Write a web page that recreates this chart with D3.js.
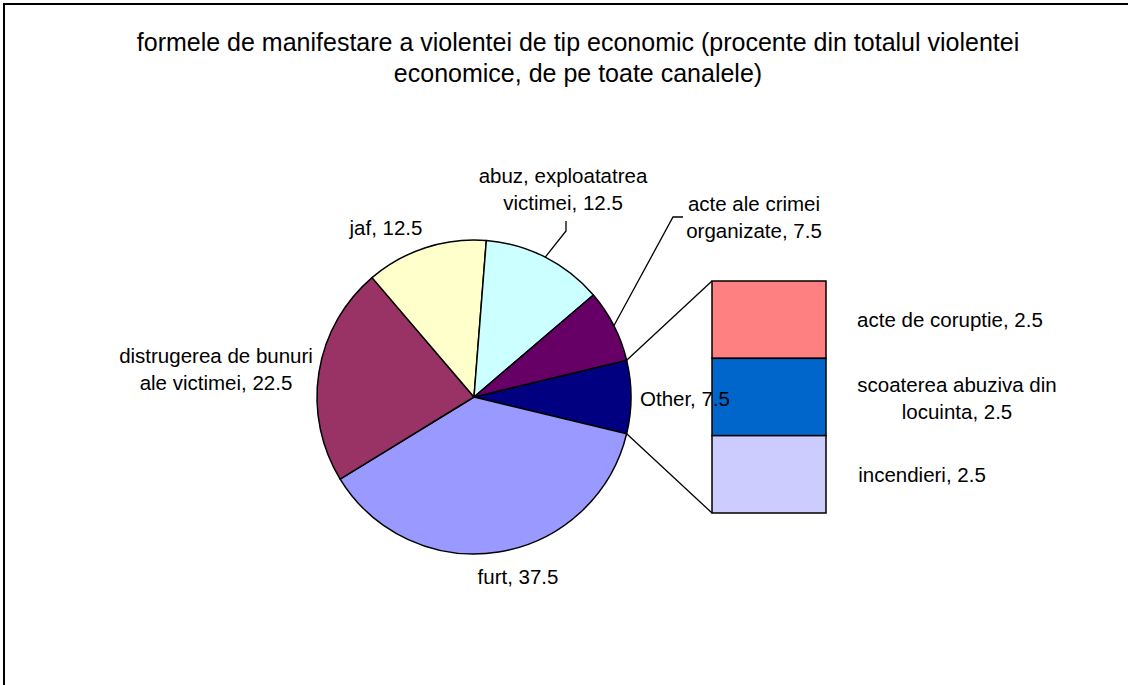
<!DOCTYPE html>
<html>
<head>
<meta charset="utf-8">
<script src="https://cdn.jsdelivr.net/npm/d3@7"></script>
<style>
  html, body { margin: 0; padding: 0; background: #fff; }
  svg { display: block; }
  text { font-family: "Liberation Sans", Arial, sans-serif; fill: #000; }
</style>
</head>
<body>
<svg id="chart" width="1128" height="685"></svg>
<script>
// ---- data ----
const titleLines = ["formele de manifestare a violentei de tip economic (procente din totalul violentei",
                    "economice, de pe toate canalele)"];
const pieNames  = ["Other", "furt", "distrugerea de bunuri ale victimei", "jaf", "abuz, exploatatrea victimei", "acte ale crimei organizate"];
const pieValues = [7.5, 37.5, 22.5, 12.5, 12.5, 7.5];
const pieColors = ["#000080", "#9999FF", "#993366", "#FFFFCC", "#CCFFFF", "#660066"];
const barNames  = ["acte de coruptie", "scoaterea abuziva din locuinta", "incendieri"];
const barValues = [2.5, 2.5, 2.5];
const barColors = ["#FF8080", "#0066CC", "#CCCCFF"];

// ---- layout ----
const svg = d3.select("#chart");
const W = 1128, H = 685;
const cx = 474, cy = 397, R = 157;
const labelFont = 20.5;

svg.append("rect").attr("x", 4).attr("y", 4).attr("width", W + 10).attr("height", H + 10)
  .attr("fill", "#fff").attr("stroke", "#000").attr("stroke-width", 2);

// title
svg.append("g").selectAll("text").data(titleLines).join("text")
  .attr("x", 578).attr("y", (d, i) => 51 + i * 31)
  .attr("text-anchor", "middle").attr("font-size", 25).text(d => d);

// pie
const otherTotal = d3.sum(barValues);
const otherDeg = otherTotal / d3.sum(pieValues) * 360;
const startA = (90 - otherDeg / 2) * Math.PI / 180;
const pie = d3.pie().sort(null).value(d => d).startAngle(startA).endAngle(startA + 2 * Math.PI);
const arcs = pie(pieValues);
const arc = d3.arc().innerRadius(0).outerRadius(R);
const pg = svg.append("g").attr("transform", `translate(${cx},${cy})`);
pg.selectAll("path").data(arcs).join("path")
  .attr("d", arc).attr("fill", (d, i) => pieColors[i])
  .attr("stroke", "#000").attr("stroke-width", 1.5).attr("stroke-linejoin", "round");

// bar of "Other"
const bx0 = 712, bx1 = 826, by0 = 281, by1 = 513;
const y = d3.scaleLinear().domain([0, otherTotal]).range([by0, by1]);
const cum = d3.cumsum(barValues);
const segs = barValues.map((v, i) => ({v, i, y0: cum[i] - v, y1: cum[i]}));
svg.append("g").selectAll("rect").data(segs).join("rect")
  .attr("x", bx0).attr("width", bx1 - bx0)
  .attr("y", d => y(d.y0)).attr("height", d => y(d.y1) - y(d.y0))
  .attr("fill", d => barColors[d.i]).attr("stroke", "#000").attr("stroke-width", 1.5);

// connector lines
const oArc = arcs[0];
const pt = a => [cx + R * Math.sin(a), cy - R * Math.cos(a)];
const pA = pt(oArc.startAngle), pB = pt(oArc.endAngle);
svg.append("line").attr("x1", pA[0]).attr("y1", pA[1]).attr("x2", bx0).attr("y2", y(0))
  .attr("stroke", "#000").attr("stroke-width", 1.3);
svg.append("line").attr("x1", pB[0]).attr("y1", pB[1]).attr("x2", bx0).attr("y2", y(otherTotal))
  .attr("stroke", "#000").attr("stroke-width", 1.3);

// leader lines for abuz and acte ale crimei
const mid = d => (d.startAngle + d.endAngle) / 2;
const leaders = [
  {i: 4, pts: [[566, 221], [566, 231]]},
  {i: 5, pts: [[683, 217], [673, 217]]}
];
leaders.forEach(l => {
  const p = pt(mid(arcs[l.i]));
  svg.append("polyline").attr("points", [...l.pts, p].map(q => q.join(",")).join(" "))
    .attr("fill", "none").attr("stroke", "#000").attr("stroke-width", 1.3);
});

// labels (line splits + positions are layout)
const pieLabelLayout = [
  {lines: [pieNames[0] + ", " + pieValues[0]], x: 685, y: 406},
  {lines: [pieNames[1] + ", " + pieValues[1]], x: 518, y: 584},
  {lines: ["distrugerea de bunuri", "ale victimei, " + pieValues[2]], x: 216, y: 363},
  {lines: [pieNames[3] + ", " + pieValues[3]], x: 386, y: 235},
  {lines: ["abuz, exploatatrea", "victimei, " + pieValues[4]], x: 563, y: 183},
  {lines: ["acte ale crimei", "organizate, " + pieValues[5]], x: 754, y: 211}
];
const barLabelLayout = [
  {lines: [barNames[0] + ", " + barValues[0]], x: 950, y: 327},
  {lines: ["scoaterea abuziva din", "locuinta, " + barValues[1]], x: 957, y: 392},
  {lines: [barNames[2] + ", " + barValues[2]], x: 922, y: 482}
];
const lg = svg.append("g");
[...pieLabelLayout, ...barLabelLayout].forEach(L => {
  L.lines.forEach((s, k) => {
    lg.append("text").attr("x", L.x).attr("y", L.y + k * 27)
      .attr("text-anchor", "middle").attr("font-size", labelFont).text(s);
  });
});
</script>
</body>
</html>
